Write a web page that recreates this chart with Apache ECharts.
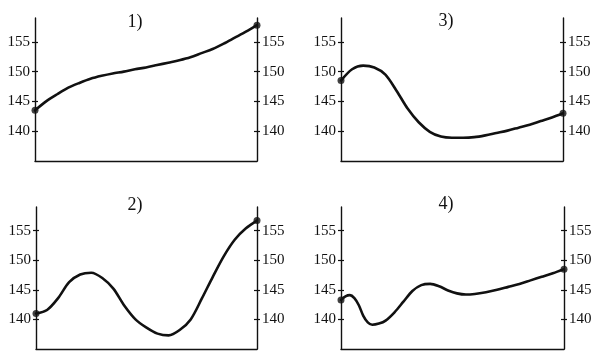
<!DOCTYPE html>
<html><head><meta charset="utf-8">
<script src="https://cdn.jsdelivr.net/npm/echarts@6/dist/echarts.min.js"></script>
<style>html,body{margin:0;padding:0;background:#fff}#c{width:605px;height:360px}</style>
</head><body><div id="c"></div>
<script>
const panelTitles = ['1)', '2)', '3)', '4)'];
const tickValues = [140, 145, 150, 155];
const yMin = 135, yMax = 159;

const x1 = [0, 5, 10, 15, 20, 25, 30, 35, 40, 45, 50, 55, 60, 65, 70, 75, 80, 85, 90, 95, 100];
const y1 = [143.5, 145.0, 146.2, 147.3, 148.1, 148.8, 149.3, 149.7, 150.0, 150.4, 150.7, 151.1, 151.5, 151.9, 152.4, 153.1, 153.8, 154.7, 155.7, 156.7, 157.8];
const x2 = [0, 5, 10, 15, 20, 25, 30, 35, 40, 45, 50, 55, 60, 65, 70, 75, 80, 85, 90, 95, 100];
const y2 = [141.0, 141.6, 143.6, 146.3, 147.6, 147.9, 147.0, 145.2, 142.3, 140.0, 138.6, 137.6, 137.3, 138.2, 140.0, 143.5, 147.2, 150.7, 153.5, 155.4, 156.7];
const x3 = [0, 5, 10, 15, 20, 25, 30, 35, 40, 45, 50, 55, 60, 65, 70, 75, 80, 85, 90, 95, 100];
const y3 = [148.5, 150.4, 151.0, 150.7, 149.5, 146.8, 143.8, 141.5, 139.9, 139.1, 138.9, 138.9, 139.0, 139.3, 139.7, 140.1, 140.6, 141.1, 141.7, 142.3, 143.0];
const x4 = [0, 2, 4, 6, 8, 10, 12, 14, 17, 20, 24, 28, 32, 36, 40, 44, 48, 52, 56, 60, 65, 70, 75, 80, 85, 90, 95, 100];
const y4 = [143.3, 143.9, 144.1, 143.6, 142.4, 140.6, 139.5, 139.1, 139.3, 139.8, 141.2, 143.0, 144.8, 145.8, 146.0, 145.6, 144.9, 144.4, 144.2, 144.3, 144.6, 145.0, 145.5, 146.0, 146.6, 147.2, 147.8, 148.5];

const panels = [
  {xs: x1, ys: y1, grid: {left: 35, right: 348, top: 18, bottom: 199}, title: [135, 22]},
  {xs: x2, ys: y2, grid: {left: 36, right: 348, top: 207, bottom: 11}, title: [135, 205]},
  {xs: x3, ys: y3, grid: {left: 341, right: 42, top: 18, bottom: 199}, title: [446, 21]},
  {xs: x4, ys: y4, grid: {left: 341, right: 41, top: 207, bottom: 11}, title: [446, 204]}
];

const ink = '#111';
const font = 'Liberation Serif';
const grids = [], xAxes = [], yAxes = [], series = [], graphics = [];

panels.forEach((p, g) => {
  grids.push(Object.assign({containLabel: false}, p.grid));
  xAxes.push({
    gridIndex: g, type: 'value', min: 0, max: 100,
    axisLine: {show: true, lineStyle: {color: ink, width: 1.4}},
    axisTick: {show: false}, axisLabel: {show: false}, splitLine: {show: false}
  });
  ['left', 'right'].forEach(pos => {
    [false, true].forEach(inside => {
      yAxes.push({
        gridIndex: g, type: 'value', position: pos, min: yMin, max: yMax,
        axisLine: {show: !inside, onZero: false, lineStyle: {color: ink, width: 1.4}},
        axisTick: {show: true, inside: inside, length: 3, customValues: tickValues,
                   lineStyle: {color: ink, width: 1.2}},
        axisLabel: {show: !inside, customValues: tickValues, margin: 5,
                    fontFamily: font, fontSize: 15, color: ink},
        splitLine: {show: false}
      });
    });
  });
  const yIdx = g * 4;
  series.push({
    type: 'line', xAxisIndex: g, yAxisIndex: yIdx,
    data: p.xs.map((x, i) => [x, p.ys[i]]),
    smooth: 0.3, symbol: 'none',
    lineStyle: {color: ink, width: 2.6, cap: 'round', join: 'round'}, z: 3
  });
  const n = p.xs.length - 1;
  series.push({
    type: 'scatter', xAxisIndex: g, yAxisIndex: yIdx,
    data: [[p.xs[0], p.ys[0]], [p.xs[n], p.ys[n]]],
    symbol: 'circle', symbolSize: 7, itemStyle: {color: ink}, z: 4, clip: false
  });
  graphics.push({
    type: 'text', x: p.title[0], y: p.title[1],
    style: {text: panelTitles[g], font: '18px "Liberation Serif"', fill: ink,
            textAlign: 'center', textVerticalAlign: 'middle'}
  });
});

const chart = echarts.init(document.getElementById('c'), null, {renderer: 'canvas'});
chart.setOption({
  animation: false,
  backgroundColor: '#fff',
  grid: grids, xAxis: xAxes, yAxis: yAxes, series: series,
  graphic: graphics
});
</script>
</body></html>
